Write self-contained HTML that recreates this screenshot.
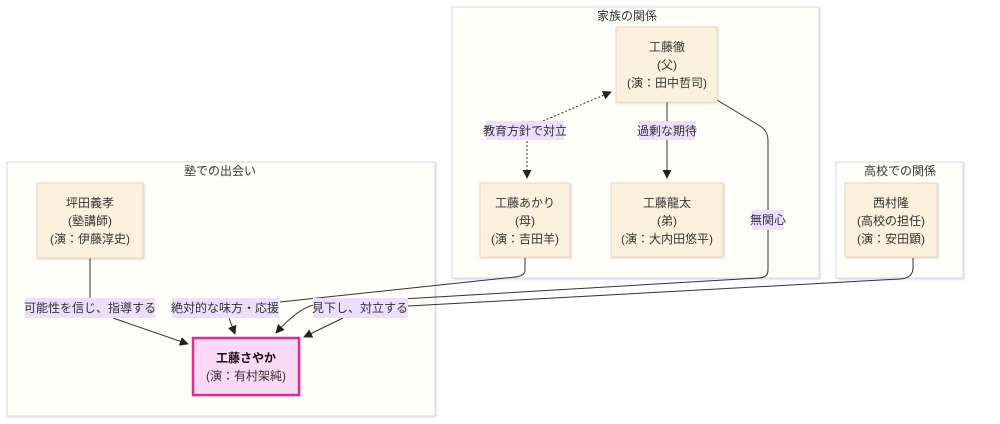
<!DOCTYPE html>
<html><head><meta charset="utf-8"><style>
body{margin:0;background:#fff;}
svg{display:block;font-family:"Liberation Sans","Noto Sans CJK JP",sans-serif;}
</style></head><body>
<svg width="1000" height="424" viewBox="0 0 1000 424" xmlns="http://www.w3.org/2000/svg">
<defs>
<marker id="a" viewBox="0 0 10 10" refX="9" refY="5" markerWidth="9" markerHeight="9" orient="auto"><path d="M0,0L10,5L0,10z" fill="#222"/></marker>
<filter id="sh"><feDropShadow dx="1" dy="1" stdDeviation="1" flood-color="#000" flood-opacity="0.15"/></filter>
</defs>
<rect width="1000" height="424" fill="#fff"/>
<g fill="#fffef8" stroke="#ddd6ee" stroke-width="1" filter="url(#sh)">
<rect x="7" y="162" width="428" height="254"/>
<rect x="452" y="7" width="367" height="271"/>
<rect x="836" y="162" width="127" height="116"/>
</g>
<g font-size="12" fill="#333" text-anchor="middle">
<text x="220" y="175">塾での出会い</text>
<text x="627" y="20">家族の関係</text>
<text x="900" y="175">高校での関係</text>
</g>
<g fill="none" stroke="#333" stroke-width="1">
<path d="M90,258 V298"/>
<path d="M113,318 L188,344" marker-end="url(#a)"/>
<path d="M525,258 V270 Q525,276 515,277 L280,302"/>
<path d="M229,318 L235,334" marker-end="url(#a)"/>
<path d="M717,100 L760,126 Q768,131 768,140 V270 Q768,278 758,278 L318,304 Q300,306 276,333" marker-end="url(#a)"/>
<path d="M913,258 V268 Q913,278 900,279 L408,306"/>
<path d="M343,318 L304,337" marker-end="url(#a)"/>
<path d="M667,102 V178" marker-end="url(#a)"/>
<path d="M527,141 V178" stroke-dasharray="2,2" marker-end="url(#a)"/>
<path d="M543,121 L611,92" stroke-dasharray="2,2" marker-end="url(#a)"/>
</g>
<g fill="#ecdefc">
<rect x="25" y="298" width="130" height="20"/>
<rect x="172" y="298" width="107" height="20"/>
<rect x="313" y="298" width="95" height="20"/>
<rect x="486" y="121" width="78" height="19"/>
<rect x="639" y="121" width="56" height="19"/>
<rect x="752" y="210" width="32" height="20"/>
</g>
<g font-size="12" fill="#333" text-anchor="middle">
<text x="90" y="312">可能性を信じ、指導する</text>
<text x="225" y="312">絶対的な味方・応援</text>
<text x="360" y="312">見下し、対立する</text>
<text x="525" y="135">教育方針で対立</text>
<text x="667" y="135">過剰な期待</text>
<text x="768" y="224">無関心</text>
</g>
<g fill="#fdf0dc" stroke="#e8d9c4" stroke-width="1" filter="url(#sh)">
<rect x="37" y="183" width="106" height="75"/>
<rect x="616" y="27" width="101" height="75"/>
<rect x="480" y="183" width="90" height="74"/>
<rect x="611" y="183" width="112" height="74"/>
<rect x="845" y="183" width="92" height="74"/>
</g>
<rect x="193" y="338" width="106" height="57" fill="#fcd9f5" stroke="#d6338f" stroke-width="2.5" filter="url(#sh)"/>
<g font-size="12" fill="#333" text-anchor="middle">
<text x="90" y="207">坪田義孝</text><text x="90" y="225">(塾講師)</text><text x="90" y="243">(演：伊藤淳史)</text>
<text x="667" y="51">工藤徹</text><text x="667" y="69">(父)</text><text x="667" y="87">(演：田中哲司)</text>
<text x="525" y="207">工藤あかり</text><text x="525" y="225">(母)</text><text x="525" y="243">(演：吉田羊)</text>
<text x="667" y="207">工藤龍太</text><text x="667" y="225">(弟)</text><text x="667" y="243">(演：大内田悠平)</text>
<text x="891" y="207">西村隆</text><text x="891" y="225">(高校の担任)</text><text x="891" y="243">(演：安田顕)</text>
<text x="246" y="362" font-weight="bold" fill="#111">工藤さやか</text><text x="246" y="380">(演：有村架純)</text>
</g>
</svg>
</body></html>
